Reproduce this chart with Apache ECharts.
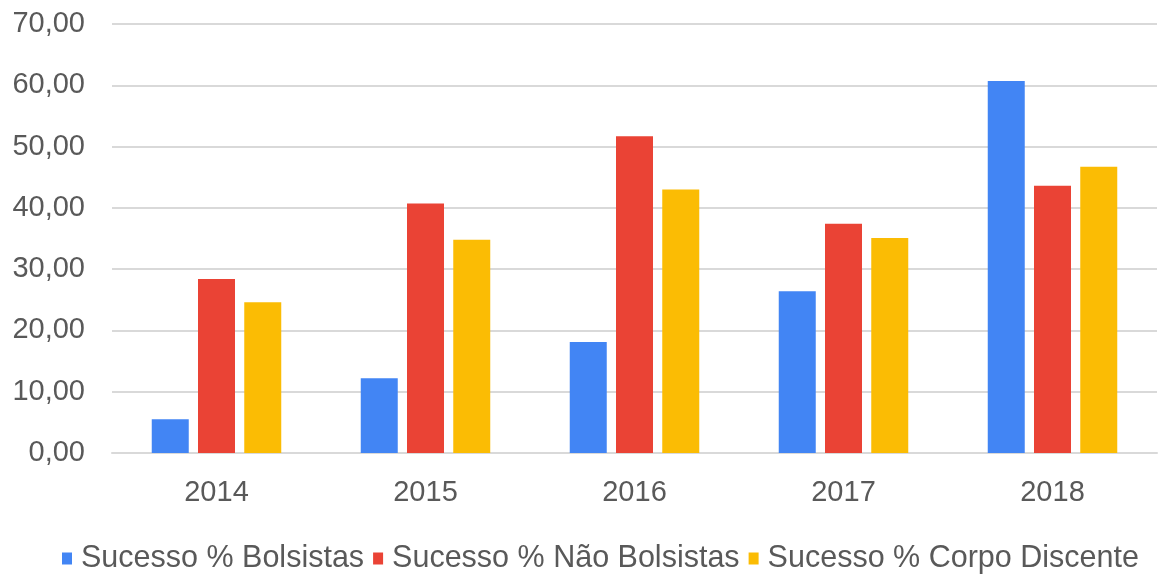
<!DOCTYPE html>
<html>
<head>
<meta charset="utf-8">
<script src="https://cdn.jsdelivr.net/npm/echarts@6/dist/echarts.min.js"></script>
<style>
  html, body { margin: 0; padding: 0; background: #fff; }
  #chart { width: 1167px; height: 579px; }
</style>
</head>
<body>
<div id="chart"></div>
<script>
var years = ['2014', '2015', '2016', '2017', '2018'];
var bolsistas = [5.5, 12.2, 18.1, 26.4, 60.7];
var naoBolsistas = [28.4, 40.7, 51.7, 37.4, 43.6];
var corpoDiscente = [24.6, 34.8, 43.0, 35.1, 46.7];
var seriesNames = ['Sucesso % Bolsistas', 'Sucesso % Não Bolsistas', 'Sucesso % Corpo Discente'];

var myChart = echarts.init(document.getElementById('chart'));

var font = 'Liberation Sans, Arial, sans-serif';

option = {
    animation: false,
    color: ['#4285f4', '#ea4335', '#fbbc04'],
    grid: {
        left: 112,
        right: 10,
        top: 24,
        bottom: 126
    },
    legend: {
        top: 538,
        left: 57,
        itemWidth: 10,
        itemHeight: 12,
        itemGap: 9,
        icon: 'rect',
        textStyle: { fontFamily: font, fontSize: 30.5, color: '#595959', padding: [0, 0, 0, 4] },
        data: seriesNames
    },
    xAxis: {
        type: 'category',
        data: years,
        axisLine: { lineStyle: { color: '#d9d9d9', width: 2 } },
        axisTick: { show: false },
        axisLabel: { fontFamily: font, fontSize: 29, color: '#595959', margin: 25 }
    },
    yAxis: {
        type: 'value',
        min: 0,
        max: 70,
        interval: 10,
        axisLine: { show: false },
        axisTick: { show: false },
        splitLine: { lineStyle: { color: '#d9d9d9', width: 2 } },
        axisLabel: {
            fontFamily: font, fontSize: 29, color: '#595959', margin: 27,
            formatter: function (v) { return v.toFixed(2).replace('.', ','); }
        }
    },
    series: [
        { name: seriesNames[0], type: 'bar', data: bolsistas, barWidth: 37, barGap: '25%' },
        { name: seriesNames[1], type: 'bar', data: naoBolsistas, barWidth: 37, barGap: '25%' },
        { name: seriesNames[2], type: 'bar', data: corpoDiscente, barWidth: 37, barGap: '25%' }
    ]
};

myChart.setOption(option);
</script>
</body>
</html>
